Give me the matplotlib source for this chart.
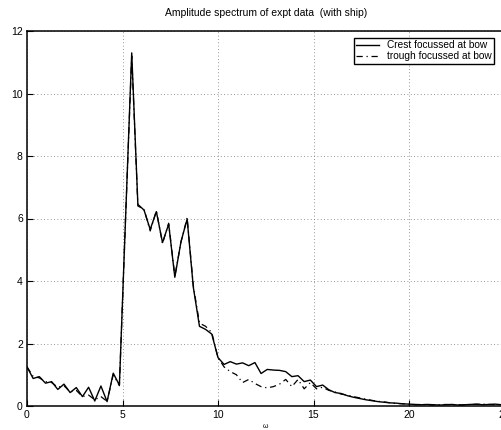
import numpy as np
import matplotlib
matplotlib.use("Agg")
import matplotlib.pyplot as plt

plt.rcParams["font.family"] = ["Liberation Sans", "DejaVu Sans"]

# frequency step of the spectrum
DW = 0.3225

crest = [
    1.25, 0.88, 0.94, 0.73, 0.78, 0.53, 0.70, 0.43, 0.59, 0.30,
    0.60, 0.16, 0.64, 0.14, 1.05, 0.67, 6.00, 11.30, 6.45, 6.27,
    5.65, 6.22, 5.23, 5.82, 4.12, 5.26, 5.98, 3.80, 2.55, 2.45,
    2.30, 1.55, 1.33, 1.42, 1.34, 1.38, 1.29, 1.39, 1.04, 1.17,
    1.15, 1.14, 1.10, 0.94, 0.97, 0.78, 0.83, 0.62, 0.67, 0.52,
    0.43, 0.40, 0.33, 0.28, 0.24, 0.20, 0.17, 0.14, 0.12, 0.10,
    0.09, 0.07, 0.06, 0.05, 0.04, 0.05, 0.04, 0.03, 0.04, 0.05,
    0.03, 0.04, 0.05, 0.06, 0.04, 0.05, 0.06, 0.04,
]
trough = [
    1.25, 0.95, 0.90, 0.78, 0.75, 0.60, 0.65, 0.45, 0.50, 0.30,
    0.35, 0.20, 0.30, 0.15, 1.00, 0.65, 6.00, 11.20, 6.40, 6.30,
    5.60, 6.25, 5.20, 5.85, 4.15, 5.25, 6.02, 3.85, 2.65, 2.55,
    2.35, 1.55, 1.25, 1.10, 1.00, 0.75, 0.85, 0.72, 0.62, 0.58,
    0.62, 0.70, 0.85, 0.62, 0.85, 0.55, 0.75, 0.55, 0.60, 0.50,
    0.45, 0.38, 0.35, 0.30, 0.26, 0.22, 0.18, 0.15, 0.13, 0.10,
    0.08, 0.07, 0.06, 0.04, 0.05, 0.04, 0.03, 0.04, 0.05, 0.04,
    0.04, 0.03, 0.05, 0.05, 0.06, 0.05, 0.04, 0.05,
]
omega = np.arange(len(crest)) * DW

fig = plt.figure(figsize=(5.01, 4.30), dpi=100)
ax = fig.add_axes([27 / 501, 24 / 430, 477.5 / 501, 375 / 430])

ax.plot(omega, crest, color="black", lw=1.0, label="Crest focussed at bow")
ax.plot(omega, trough, color="black", lw=0.9, ls=(0, (5, 3, 1, 3)),
        label="trough focussed at bow")

ax.set_xlim(0, 25)
ax.set_ylim(0, 12)
ax.set_xticks(np.arange(0, 26, 5))
ax.set_yticks(np.arange(0, 13, 2))
ax.grid(True, color="0.45", linestyle=(0, (1, 3)), linewidth=0.6)
ax.tick_params(direction="in", length=4, width=0.8, labelsize=7.5, pad=3)
for sp in ax.spines.values():
    sp.set_linewidth(1.1)

ax.set_title("Amplitude spectrum of expt data  (with ship)", fontsize=7.5, pad=11)
ax.set_xlabel("\u03c9", fontsize=5, labelpad=2)

leg = ax.legend(loc="upper right", bbox_to_anchor=(0.978, 0.982), fontsize=7.3,
                fancybox=False, framealpha=1, edgecolor="black", borderpad=0.25,
                labelspacing=0.1, handlelength=2.2, borderaxespad=0)
leg.get_frame().set_linewidth(1.0)

fig.savefig("out.png", dpi=100)
